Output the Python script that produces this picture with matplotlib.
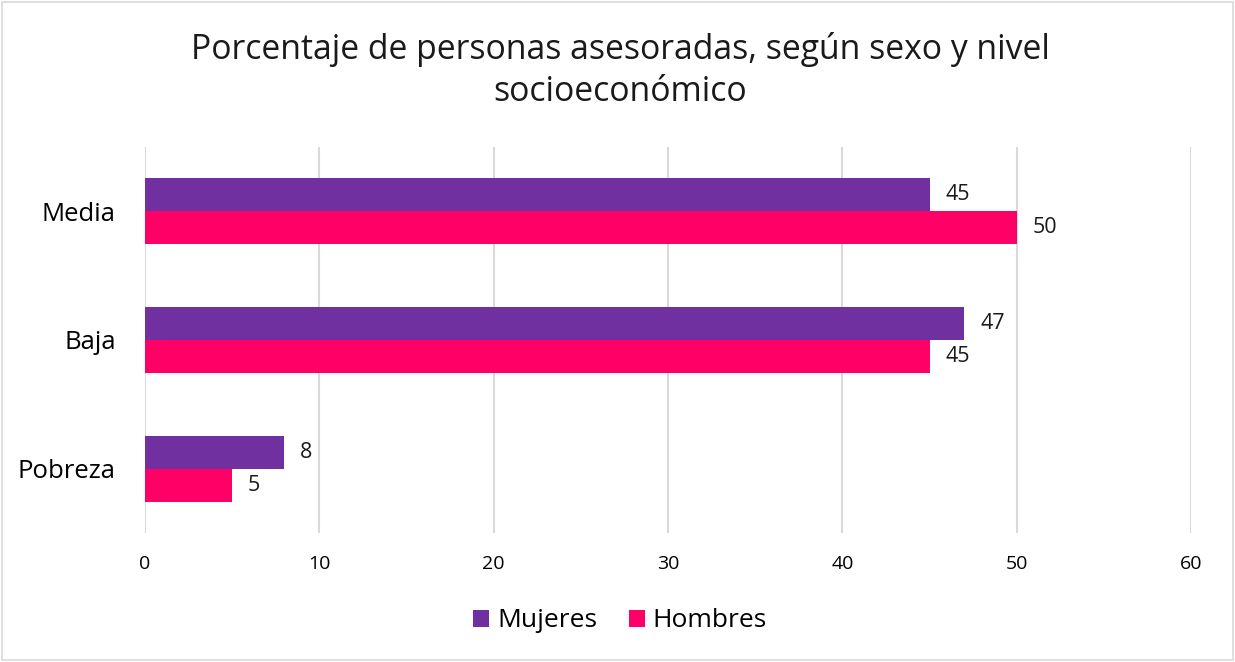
import matplotlib.pyplot as plt
import numpy as np
from matplotlib.patches import Rectangle

categories = ['Pobreza', 'Baja', 'Media']
mujeres = [8, 47, 45]
hombres = [5, 45, 50]
x_ticks = [0, 10, 20, 30, 40, 50, 60]

purple = '#7030A0'
pink = '#FF0066'

plt.rcParams['font.family'] = ['Open Sans', 'DejaVu Sans']

fig = plt.figure(figsize=(12.35, 6.62), dpi=100)
ax = fig.add_axes([0.1174, 0.195, 0.9644 - 0.1174, 0.778 - 0.195])

y = np.arange(len(categories))
h = 0.256
bm = ax.barh(y + h / 2, mujeres, height=h, color=purple, label='Mujeres', zorder=3)
bh = ax.barh(y - h / 2, hombres, height=h, color=pink, label='Hombres', zorder=3)

for bars in (bm, bh):
    for b in bars:
        ax.text(b.get_width() + 0.9, b.get_y() + b.get_height() / 2, f'{b.get_width():g}',
                va='center', ha='left', fontsize=15.5, color='#1a1a1a')

ax.set_xlim(0, 60)
ax.set_ylim(-0.5, 2.5)
ax.set_xticks(x_ticks)
ax.set_yticks(y)
ax.set_yticklabels(categories, fontsize=18.5)
ax.tick_params(axis='x', labelsize=14, length=0, pad=16)
ax.tick_params(axis='y', length=0, pad=21)
ax.grid(axis='x', color='#d9d9d9', linewidth=1.5, zorder=0)
for s in ax.spines.values():
    s.set_visible(False)

fig.text(0.502, 0.894, 'Porcentaje de personas asesoradas, según sexo y nivel\nsocioeconómico',
         ha='center', va='center', fontsize=24.3, linespacing=1.3, color='#1a1a1a')

fig.legend(handles=[bm, bh], loc='center', bbox_to_anchor=(0.502, 0.062), ncol=2,
           frameon=False, fontsize=19, handlelength=0.6, handleheight=0.6,
           handletextpad=0.3, columnspacing=1.2)

fig.patches.append(Rectangle((0.002, 0.003), 0.996, 0.994, transform=fig.transFigure,
                             fill=False, edgecolor='#d9d9d9', linewidth=1.2))

fig.savefig('out.png', dpi=100)
